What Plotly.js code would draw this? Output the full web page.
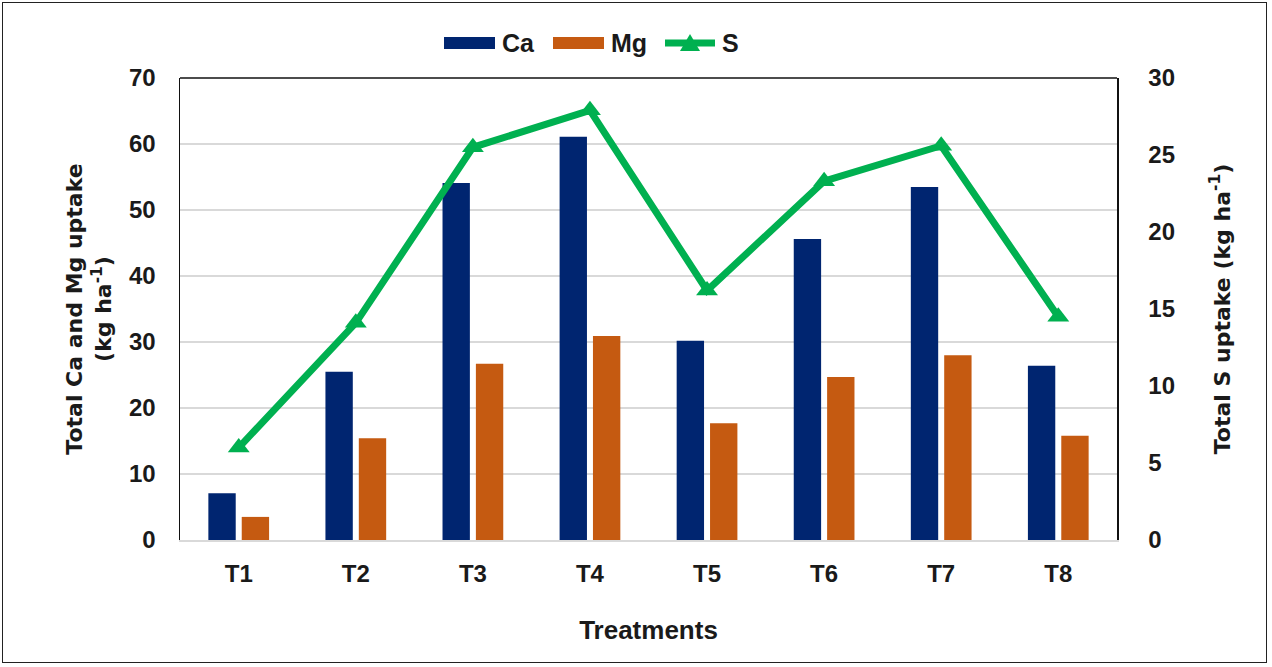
<!DOCTYPE html>
<html>
<head>
<meta charset="utf-8">
<script src="https://cdn.plot.ly/plotly-3.0.1.min.js"></script>
<style>
  html, body { margin: 0; padding: 0; background: #fff; }
  #frame { position: absolute; left: 2px; top: 2px; width: 1265px; height: 661px; border: 1.5px solid #222; box-sizing: border-box; pointer-events: none; }
  #chart { position: absolute; left: 0; top: 0; width: 1272px; height: 667px; }
</style>
</head>
<body>
<div id="chart"></div>
<div id="frame"></div>
<script>
const treatments = ["T1", "T2", "T3", "T4", "T5", "T6", "T7", "T8"];
const caUptake = [7.1, 25.5, 54.1, 61.1, 30.2, 45.6, 53.5, 26.4];
const mgUptake = [3.5, 15.4, 26.7, 30.9, 17.7, 24.7, 28.0, 15.8];
const sUptake = [6.0, 14.1, 25.5, 27.9, 16.2, 23.3, 25.6, 14.5];
const seriesNames = ["Ca", "Mg", "S"];

const CA_COLOR = "#002570", MG_COLOR = "#C55A11", S_COLOR = "#00B050";
const LIB = "Liberation Sans, Arial, sans-serif";
const DJV = "DejaVu Sans, sans-serif";
const txt = "#1a1a1a";
function f(size, family) { return {family: family || LIB, size: size, color: txt, weight: "bold"}; }

// plot-area geometry (pixels) for placing the hand-drawn legend
const W = 1272, H = 667, L = 180, R = 155, T = 78, B = 127;
const pw = W - L - R, ph = H - T - B;
function px(xp) { return (xp - L) / pw; }
function py(yp) { return (H - B - yp) / ph; }

const traces = [
  {type: "bar", name: seriesNames[0], x: treatments, y: caUptake, marker: {color: CA_COLOR}},
  {type: "bar", name: seriesNames[1], x: treatments, y: mgUptake, marker: {color: MG_COLOR}},
  {type: "scatter", mode: "lines+markers", name: seriesNames[2], x: treatments, y: sUptake, yaxis: "y2",
   line: {color: S_COLOR, width: 7}, marker: {symbol: "triangle-up", size: 19, color: S_COLOR}}
];

const legendY = 43;
const shapes = [
  {type: "line", xref: "paper", yref: "paper", x0: 0, x1: 1, y0: 1, y1: 1, line: {color: "#111", width: 1.5}},
  {type: "rect", xref: "paper", yref: "paper", x0: px(444), x1: px(495), y0: py(legendY - 6), y1: py(legendY + 6),
   fillcolor: CA_COLOR, line: {width: 0}},
  {type: "rect", xref: "paper", yref: "paper", x0: px(553), x1: px(604), y0: py(legendY - 6), y1: py(legendY + 6),
   fillcolor: MG_COLOR, line: {width: 0}},
  {type: "line", xref: "paper", yref: "paper", x0: px(665), x1: px(715), y0: py(legendY), y1: py(legendY),
   line: {color: S_COLOR, width: 7}},
  {type: "path", xref: "paper", yref: "paper",
   path: `M ${px(680)} ${py(legendY + 8)} L ${px(700)} ${py(legendY + 8)} L ${px(690)} ${py(legendY - 9)} Z`,
   fillcolor: S_COLOR, line: {width: 0}}
];

const annotations = [
  {text: seriesNames[0], x: px(500), xanchor: "left"},
  {text: seriesNames[1], x: px(609), xanchor: "left"},
  {text: seriesNames[2], x: px(720), xanchor: "left"}
].map(a => Object.assign({xref: "paper", yref: "paper", y: py(legendY), yanchor: "middle",
                          showarrow: false, font: f(25)}, a));

const layout = {
  width: W, height: H,
  margin: {l: L, r: R, t: T, b: B, autoexpand: false},
  paper_bgcolor: "#fff", plot_bgcolor: "#fff",
  font: f(22),
  barmode: "group", bargap: 0.43, bargroupgap: 0.18,
  showlegend: false,
  xaxis: {
    showline: true, linecolor: "#d9d9d9", linewidth: 1.5, ticks: "", ticklabelstandoff: 12,
    tickfont: f(24),
    title: {text: "Treatments", font: f(26), standoff: 34}
  },
  yaxis: {
    range: [0, 70], dtick: 10, showgrid: true, gridcolor: "#d9d9d9", gridwidth: 1.5,
    showline: true, linecolor: "#111", linewidth: 1.5, ticks: "", ticklabelstandoff: 18,
    zeroline: false, tickfont: f(24), tickformat: "d",
    title: {text: "Total Ca and Mg uptake<br>(kg ha<sup>-1</sup>)", font: f(22, DJV), standoff: 11}
  },
  yaxis2: {
    overlaying: "y", side: "right", range: [0, 30], dtick: 5, showgrid: false, zeroline: false,
    showline: true, linecolor: "#111", linewidth: 1.5, ticks: "", ticklabelstandoff: 25,
    tickfont: f(24),
    title: {text: "Total S uptake (kg ha<sup>-1</sup>)", font: f(22, DJV), standoff: 40}
  },
  shapes: shapes,
  annotations: annotations
};

Plotly.newPlot("chart", traces, layout, {displayModeBar: false, staticPlot: true});
</script>
</body>
</html>
